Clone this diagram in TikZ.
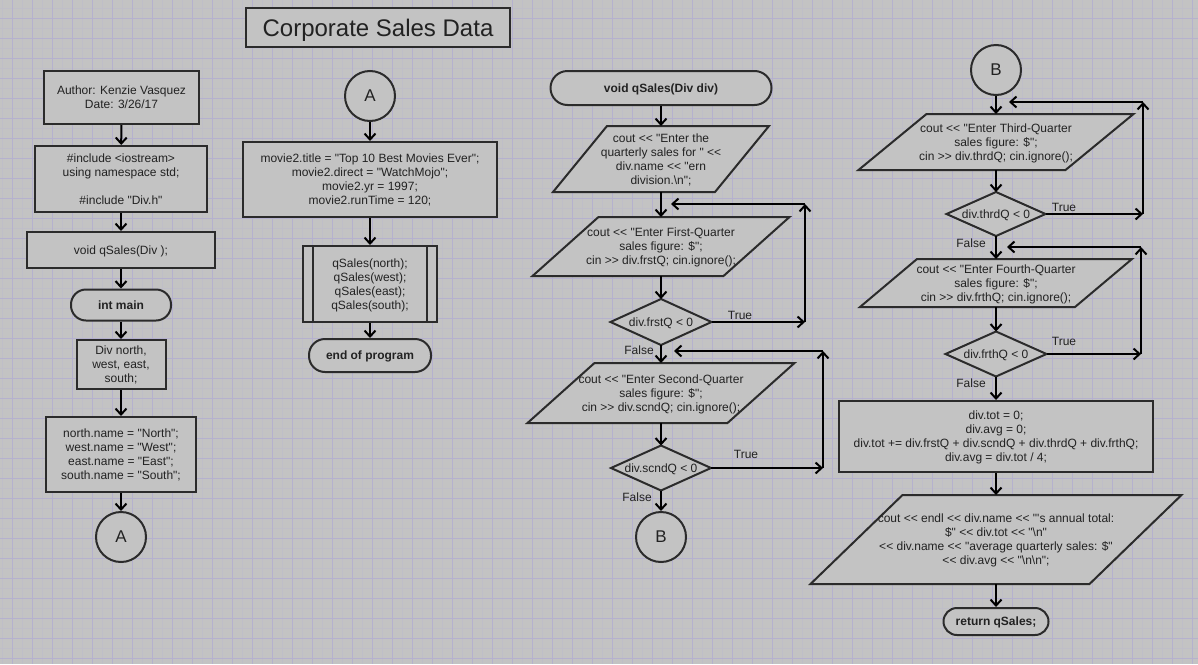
\documentclass[tikz,border=0pt]{standalone}
\usepackage{fontspec}
\newfontfamily\lsans{Liberation Sans}
\usetikzlibrary{arrows.meta,calc}
\definecolor{bgc}{HTML}{C3C3C3}
\definecolor{gridminor}{HTML}{BFBEC8}
\definecolor{gridmajor}{HTML}{B5B1CE}
\definecolor{strokec}{HTML}{2B2B2B}
\definecolor{textc}{HTML}{222222}
\pgfdeclarelayer{bglayer}
\pgfdeclarelayer{shplayer}
\pgfsetlayers{bglayer,shplayer,main}
\newcommand\mypar[2]{\draw[shp] ($(#1.north west)+(#2,0)$) -- (#1.north east) -- ($(#1.south east)-(#2,0)$) -- (#1.south west) -- cycle;}
\newcommand\mydia[1]{\draw[shp] (#1.north) -- (#1.east) -- (#1.south) -- (#1.west) -- cycle;}
\tikzset{
  base/.style={font=\lsans\fontsize{12}{14}\selectfont, text=textc, align=center, inner sep=0pt, outer sep=0pt, text depth=0pt},
  procbox/.style={base, rectangle, draw=strokec, fill=bgc, line width=2pt, outer sep=1pt},
  termbox/.style={procbox, rounded corners=#1, font=\lsans\bfseries\fontsize{12}{14}\selectfont},
  termbox/.default=15pt,
  conn/.style={base, circle, draw=strokec, fill=bgc, line width=2pt, outer sep=1pt, minimum size=50pt, font=\lsans\fontsize{17}{20}\selectfont},
  holder/.style={base, rectangle},
  shp/.style={draw=strokec, fill=bgc, line width=2pt, line join=miter},
  flow/.style={draw=black, line width=2pt, -{Straight Barb[length=6pt,width=11pt]}},
  lbl/.style={base},
}
\begin{document}
\begin{tikzpicture}[x=1pt,y=-1pt]
\useasboundingbox (0,0) rectangle (1198,664);
\begin{pgfonlayer}{bglayer}
  \fill[bgc] (0,0) rectangle (1198,664);
  \foreach \x in {2.5,22.5,...,1198} \draw[gridminor,line width=1pt] (\x,0) -- (\x,664);
  \foreach \y in {8.5,28.5,...,664} \draw[gridminor,line width=1pt] (0,\y) -- (1198,\y);
  \foreach \x in {12.5,32.5,...,1198} \draw[gridmajor,line width=1pt] (\x,0) -- (\x,664);
  \foreach \y in {18.5,38.5,...,664} \draw[gridmajor,line width=1pt] (0,\y) -- (1198,\y);
\end{pgfonlayer}

% title
\node[procbox, minimum width=264pt, minimum height=39pt, font=\lsans\fontsize{24}{28}\selectfont] (title) at (378,27.5) {Corporate Sales Data};

% column 1
\node[procbox, minimum width=155pt, minimum height=53pt] (au) at (121.5,97.5) {Author: Kenzie Vasquez\\Date: 3/26/17};
\node[procbox, minimum width=172pt, minimum height=66pt] (inc) at (121,179) {\#include <iostream>\\using namespace std;\\\mbox{}\\\#include "Div.h"};
\node[procbox, minimum width=188pt, minimum height=36pt] (proto) at (121,250) {void qSales(Div );};
\node[termbox, minimum width=100pt, minimum height=31pt] (imain) at (121,305) {int main};
\node[procbox, minimum width=89pt, minimum height=49pt] (divn) at (121,364.5) {Div north,\\west, east,\\south;};
\node[procbox, minimum width=150pt, minimum height=75pt] (names) at (121,454.5) {north.name = "North";\\west.name = "West";\\east.name = "East";\\south.name = "South";};
\node[conn] (cA1) at (121,537) {A};
\draw[flow] (au) -- (inc);
\draw[flow] (inc) -- (proto);
\draw[flow] (proto) -- (imain);
\draw[flow] (imain) -- (divn);
\draw[flow] (divn) -- (names);
\draw[flow] (names) -- (cA1);

% column 2
\node[conn] (cA2) at (370,96) {A};
\node[procbox, minimum width=254pt, minimum height=75pt] (movie) at (370,179.5) {movie2.title = "Top 10 Best Movies Ever";\\movie2.direct = "WatchMojo";\\movie2.yr = 1997;\\movie2.runTime = 120;};
\node[procbox, minimum width=134pt, minimum height=76pt] (qs) at (370,284) {qSales(north);\\qSales(west);\\qSales(east);\\qSales(south);};
\draw[strokec, line width=2pt] ($(qs.north west)+(11,1)$) -- ($(qs.south west)+(11,-1)$);
\draw[strokec, line width=2pt] ($(qs.north east)+(-11,1)$) -- ($(qs.south east)+(-11,-1)$);
\node[termbox=16pt, minimum width=122pt, minimum height=33pt] (eop) at (370,355.5) {end of program};
\draw[flow] (cA2) -- (movie);
\draw[flow] (movie) -- (qs);
\draw[flow] (qs) -- (eop);

% column 3
\node[termbox=17pt, minimum width=221pt, minimum height=34pt] (vq) at (661,88) {void qSales(Div div)};
\node[holder, minimum width=216pt, minimum height=66pt] (p1) at (661,159) {cout << "Enter the\\quarterly sales for " <<\\div.name << "ern\\division.\textbackslash n";};
\node[holder, minimum width=257pt, minimum height=59pt] (p2) at (661,246.5) {cout << "Enter First-Quarter\\sales figure: \$";\\cin >> div.frstQ; cin.ignore();};
\node[holder, minimum width=101pt, minimum height=46pt] (d1) at (661,322) {div.frstQ < 0};
\node[holder, minimum width=267pt, minimum height=60pt] (p3) at (661,393) {cout << "Enter Second-Quarter\\sales figure: \$";\\cin >> div.scndQ; cin.ignore();};
\node[holder, minimum width=100pt, minimum height=45pt] (d2) at (661,468) {div.scndQ < 0};
\node[conn] (cB1) at (661,537) {B};
\begin{pgfonlayer}{shplayer}
  \mypar{p1}{54}
  \mypar{p2}{66}
  \mydia{d1}
  \mypar{p3}{67}
  \mydia{d2}
\end{pgfonlayer}
\draw[flow] (vq) -- (p1);
\draw[flow] (p1) -- (p2);
\draw[flow] (p2) -- (d1);
\draw[flow] (d1) -- (p3);
\draw[flow] (p3) -- (d2);
\draw[flow] (d2) -- (cB1);
\coordinate (t1a) at (805,322);
\coordinate (t1b) at (805,204);
\coordinate (t1c) at (671,204);
\draw[flow] (d1.east) -- (t1a);
\draw[flow] (t1a) -- (t1b);
\draw[flow] (t1b) -- (t1c);
\coordinate (t2a) at (823,468);
\coordinate (t2b) at (823,351);
\coordinate (t2c) at (674,351);
\draw[flow] (d2.east) -- (t2a);
\draw[flow] (t2a) -- (t2b);
\draw[flow] (t2b) -- (t2c);
\node[lbl] (lt1) at (740,315) {True};
\node[lbl] (lf1) at (639,350) {False};
\node[lbl] (lt2) at (746,454) {True};
\node[lbl] (lf2) at (637,497) {False};

% column 4
\node[conn] (cB2) at (996,70) {B};
\node[holder, minimum width=275pt, minimum height=56pt] (p4) at (996,142) {cout << "Enter Third-Quarter\\sales figure: \$";\\cin >> div.thrdQ; cin.ignore();};
\node[holder, minimum width=99pt, minimum height=44pt] (d3) at (996,214) {div.thrdQ < 0};
\node[holder, minimum width=272pt, minimum height=48pt] (p5) at (996,283) {cout << "Enter Fourth-Quarter\\sales figure: \$";\\cin >> div.frthQ; cin.ignore();};
\node[holder, minimum width=101pt, minimum height=45pt] (d4) at (996,354) {div.frthQ < 0};
\node[procbox, minimum width=314pt, minimum height=71pt] (calc) at (996,436.5) {div.tot = 0;\\div.avg = 0;\\div.tot += div.frstQ + div.scndQ + div.thrdQ + div.frthQ;\\div.avg = div.tot / 4;};
\node[holder, minimum width=371pt, minimum height=89pt] (p6) at (996,539.5) {cout << endl << div.name << "'s annual total:\\\$" << div.tot << "\textbackslash n"\\<< div.name << "average quarterly sales: \$"\\<< div.avg << "\textbackslash n\textbackslash n";};
\node[termbox=13.5pt, minimum width=105pt, minimum height=27pt] (ret) at (996,621.5) {return qSales;};
\begin{pgfonlayer}{shplayer}
  \mypar{p4}{68}
  \mydia{d3}
  \mypar{p5}{57}
  \mydia{d4}
  \mypar{p6}{92}
\end{pgfonlayer}
\draw[flow] (cB2) -- (p4);
\draw[flow] (p4) -- (d3);
\draw[flow] (d3) -- (p5);
\draw[flow] (p5) -- (d4);
\draw[flow] (d4) -- (calc);
\draw[flow] (calc) -- (p6);
\draw[flow] (p6) -- (ret);
\coordinate (t3a) at (1143,214);
\coordinate (t3b) at (1143,102);
\coordinate (t3c) at (1009,102);
\draw[flow] (d3.east) -- (t3a);
\draw[flow] (t3a) -- (t3b);
\draw[flow] (t3b) -- (t3c);
\coordinate (t4a) at (1141,354);
\coordinate (t4b) at (1141,247);
\coordinate (t4c) at (1007,247);
\draw[flow] (d4.east) -- (t4a);
\draw[flow] (t4a) -- (t4b);
\draw[flow] (t4b) -- (t4c);
\node[lbl] (lt3) at (1064,207) {True};
\node[lbl] (lf3) at (971,243) {False};
\node[lbl] (lt4) at (1064,341) {True};
\node[lbl] (lf4) at (971,383) {False};
\end{tikzpicture}
\end{document}
